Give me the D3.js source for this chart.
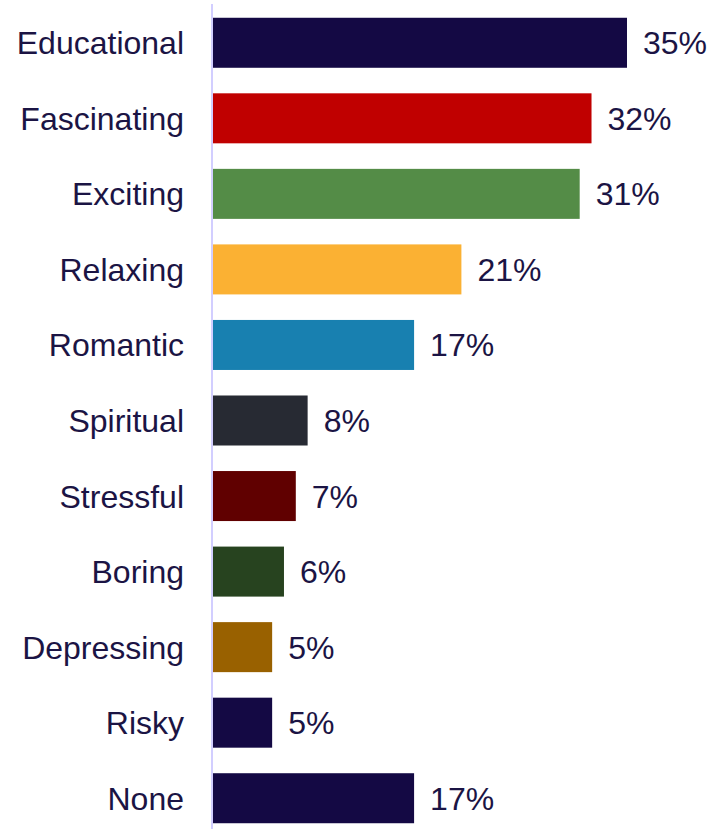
<!DOCTYPE html>
<html>
<head>
<meta charset="utf-8">
<script src="https://cdn.jsdelivr.net/npm/d3@7"></script>
<style>
  body { margin: 0; background: #fff; }
  svg { display: block; }
</style>
</head>
<body>
<div id="chart"></div>
<script>
const categories = ["Educational","Fascinating","Exciting","Relaxing","Romantic","Spiritual","Stressful","Boring","Depressing","Risky","None"];
const values = [35, 32, 31, 21, 17, 8, 7, 6, 5, 5, 17];
const barColors = ["#140944","#c00000","#548c47","#fbb133","#1880b0","#272a33","#600000","#27431f","#996100","#140944","#140944"];

const width = 716, height = 829;
const textColor = "#1b1444";
const font = "'Liberation Sans', Arial, sans-serif";

const svg = d3.select("#chart").append("svg")
    .attr("width", width)
    .attr("height", height);

const x = d3.scaleLinear()
    .domain([0, 35])
    .range([213, 627]);

const y = d3.scaleBand()
    .domain(categories)
    .range([5, 836])
    .paddingInner(0.338)
    .paddingOuter(0.169);

// bars
svg.selectAll("rect.bar")
    .data(categories)
    .enter().append("rect")
    .attr("class", "bar")
    .attr("x", x(0))
    .attr("y", d => y(d))
    .attr("width", (d, i) => x(values[i]) - x(0))
    .attr("height", y.bandwidth())
    .attr("fill", (d, i) => barColors[i]);

// value labels
svg.selectAll("text.val")
    .data(categories)
    .enter().append("text")
    .attr("class", "val")
    .attr("x", (d, i) => x(values[i]) + 16)
    .attr("y", d => y(d) + y.bandwidth() / 2)
    .attr("dy", "0.36em")
    .attr("fill", textColor)
    .style("font-family", font)
    .style("font-size", "32px")
    .text((d, i) => values[i] + "%");

// category axis
const axis = svg.append("g")
    .attr("transform", "translate(212,0)")
    .call(d3.axisLeft(y).tickSize(0).tickPadding(28));

axis.select(".domain")
    .attr("stroke", "#d2ceff")
    .attr("stroke-width", 2)
    .attr("d", "M0," + 4 + "V" + height);

axis.selectAll("text")
    .attr("fill", textColor)
    .attr("dy", "0.36em")
    .style("font-family", font)
    .style("font-size", "32px");
</script>
</body>
</html>
